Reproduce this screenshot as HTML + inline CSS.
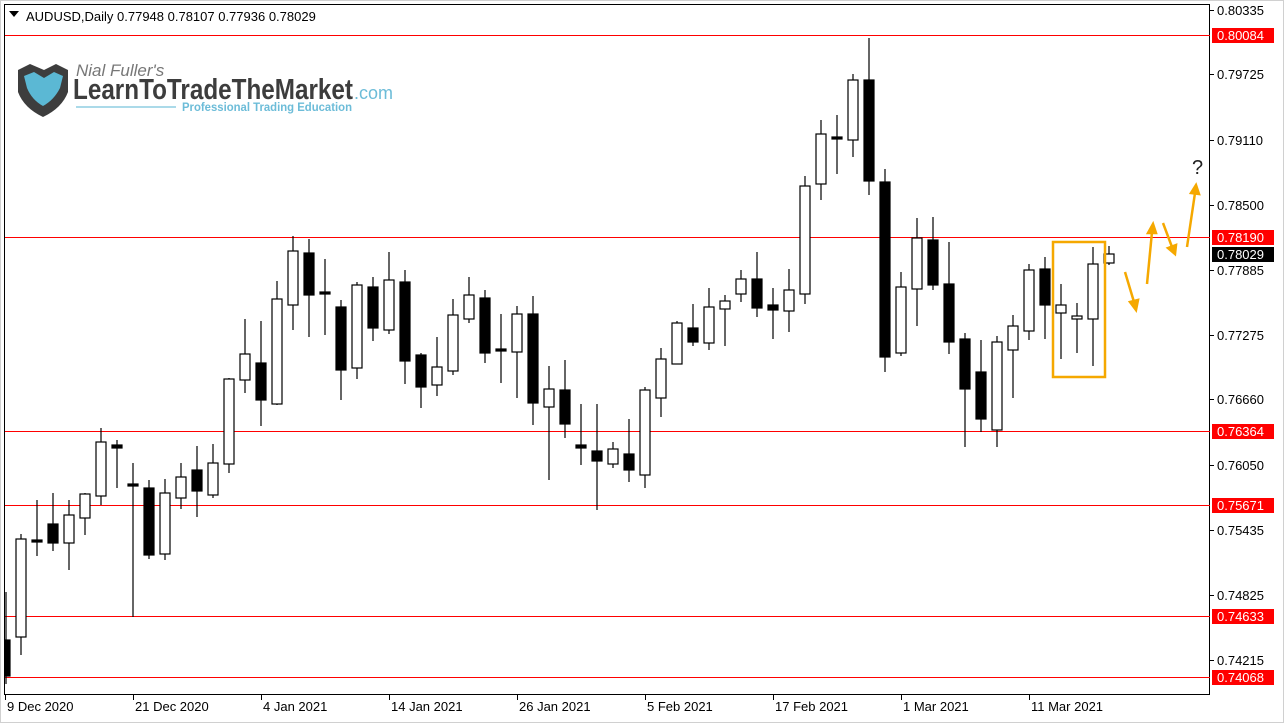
<!DOCTYPE html>
<html><head><meta charset="utf-8"><style>
body{margin:0;background:#fff;width:1284px;height:723px;overflow:hidden;font-family:"Liberation Sans",sans-serif}
</style></head><body>
<svg width="1284" height="723" viewBox="0 0 1284 723" xmlns="http://www.w3.org/2000/svg" font-family="Liberation Sans, sans-serif">
<rect x="0" y="0" width="1284" height="723" fill="#fff"/>
<rect x="0.5" y="0.5" width="1283" height="722" fill="none" stroke="#d0d0d0"/>
<rect x="4.5" y="4.5" width="1205" height="690" fill="none" stroke="#000"/>
<!-- red lines -->
<g fill="#ff0000" shape-rendering="crispEdges">
<rect x="5" y="35" width="1205" height="1"/>
<rect x="5" y="237" width="1205" height="1"/>
<rect x="5" y="431" width="1205" height="1"/>
<rect x="5" y="505" width="1205" height="1"/>
<rect x="5" y="616" width="1205" height="1"/>
<rect x="5" y="677" width="1205" height="1"/>
</g>
<!-- header -->
<polygon points="9,11 19,11 14,17" fill="#000"/>
<text x="26" y="21" font-size="13" fill="#000">AUDUSD,Daily  0.77948 0.78107 0.77936 0.78029</text>
<!-- logo -->
<path d="M18,70 L30,64 L44,70 L56,64 L68,70 L68,92 Q62,108 43,117 Q24,108 18,92 Z" fill="#3d3d3d"/>
<path d="M24,76 L34,72 L44,78 L54,72 L63,76 L60,88 Q54,100 43,106 Q32,100 27,88 Z" fill="#5bb8d4"/>
<text x="76" y="76" font-size="17" font-style="italic" fill="#777">Nial Fuller's</text>
<text x="73" y="99" font-size="29" font-weight="bold" fill="#3d3d3d" textLength="280" lengthAdjust="spacingAndGlyphs">LearnToTradeTheMarket</text>
<text x="354" y="99" font-size="18" fill="#6cbcd8">.com</text>
<line x1="76" y1="107" x2="176" y2="107" stroke="#8fcde2" stroke-width="1.5"/>
<text x="182" y="111" font-size="12" font-weight="bold" fill="#6cbcd8" textLength="170" lengthAdjust="spacingAndGlyphs">Professional Trading Education</text>
<!-- candles -->
<g stroke="#000" stroke-width="1.2">
<line x1="6" y1="592" x2="6" y2="684"/><rect x="5" y="640" width="5" height="36" fill="#000"/>
<line x1="21" y1="534" x2="21" y2="655"/><rect x="16" y="539" width="10" height="98" fill="#fff"/>
<line x1="37" y1="500" x2="37" y2="556"/><rect x="32" y="540" width="10" height="2" fill="#000"/>
<line x1="53" y1="493" x2="53" y2="551"/><rect x="48" y="524" width="10" height="19" fill="#000"/>
<line x1="69" y1="500" x2="69" y2="570"/><rect x="64" y="515" width="10" height="28" fill="#fff"/>
<line x1="85" y1="493" x2="85" y2="535"/><rect x="80" y="494" width="10" height="24" fill="#fff"/>
<line x1="101" y1="428" x2="101" y2="505"/><rect x="96" y="442" width="10" height="54" fill="#fff"/>
<line x1="117" y1="440" x2="117" y2="488"/><rect x="112" y="445" width="10" height="3" fill="#000"/>
<line x1="133" y1="463" x2="133" y2="617"/><rect x="128" y="484" width="10" height="2" fill="#000"/>
<line x1="149" y1="480" x2="149" y2="559"/><rect x="144" y="488" width="10" height="67" fill="#000"/>
<line x1="165" y1="479" x2="165" y2="560"/><rect x="160" y="493" width="10" height="61" fill="#fff"/>
<line x1="181" y1="463" x2="181" y2="509"/><rect x="176" y="477" width="10" height="21" fill="#fff"/>
<line x1="197" y1="446" x2="197" y2="517"/><rect x="192" y="470" width="10" height="21" fill="#000"/>
<line x1="213" y1="444" x2="213" y2="498"/><rect x="208" y="463" width="10" height="32" fill="#fff"/>
<line x1="229" y1="378" x2="229" y2="473"/><rect x="224" y="379" width="10" height="85" fill="#fff"/>
<line x1="245" y1="319" x2="245" y2="393"/><rect x="240" y="354" width="10" height="26" fill="#fff"/>
<line x1="261" y1="321" x2="261" y2="426"/><rect x="256" y="363" width="10" height="37" fill="#000"/>
<line x1="277" y1="281" x2="277" y2="405"/><rect x="272" y="299" width="10" height="105" fill="#fff"/>
<line x1="293" y1="236" x2="293" y2="330"/><rect x="288" y="251" width="10" height="54" fill="#fff"/>
<line x1="309" y1="239" x2="309" y2="337"/><rect x="304" y="253" width="10" height="42" fill="#000"/>
<line x1="325" y1="259" x2="325" y2="335"/><rect x="320" y="292" width="10" height="2" fill="#000"/>
<line x1="341" y1="300" x2="341" y2="400"/><rect x="336" y="307" width="10" height="63" fill="#000"/>
<line x1="357" y1="282" x2="357" y2="379"/><rect x="352" y="285" width="10" height="83" fill="#fff"/>
<line x1="373" y1="277" x2="373" y2="341"/><rect x="368" y="287" width="10" height="41" fill="#000"/>
<line x1="389" y1="252" x2="389" y2="334"/><rect x="384" y="280" width="10" height="50" fill="#fff"/>
<line x1="405" y1="270" x2="405" y2="384"/><rect x="400" y="282" width="10" height="79" fill="#000"/>
<line x1="421" y1="353" x2="421" y2="408"/><rect x="416" y="355" width="10" height="32" fill="#000"/>
<line x1="437" y1="337" x2="437" y2="396"/><rect x="432" y="367" width="10" height="18" fill="#fff"/>
<line x1="453" y1="299" x2="453" y2="375"/><rect x="448" y="315" width="10" height="56" fill="#fff"/>
<line x1="469" y1="277" x2="469" y2="323"/><rect x="464" y="295" width="10" height="24" fill="#fff"/>
<line x1="485" y1="290" x2="485" y2="363"/><rect x="480" y="298" width="10" height="55" fill="#000"/>
<line x1="501" y1="314" x2="501" y2="383"/><rect x="496" y="349" width="10" height="2" fill="#000"/>
<line x1="517" y1="306" x2="517" y2="398"/><rect x="512" y="314" width="10" height="38" fill="#fff"/>
<line x1="533" y1="296" x2="533" y2="425"/><rect x="528" y="314" width="10" height="89" fill="#000"/>
<line x1="549" y1="366" x2="549" y2="480"/><rect x="544" y="389" width="10" height="18" fill="#fff"/>
<line x1="565" y1="360" x2="565" y2="438"/><rect x="560" y="390" width="10" height="34" fill="#000"/>
<line x1="581" y1="404" x2="581" y2="465"/><rect x="576" y="445" width="10" height="3" fill="#000"/>
<line x1="597" y1="404" x2="597" y2="510"/><rect x="592" y="451" width="10" height="10" fill="#000"/>
<line x1="613" y1="442" x2="613" y2="468"/><rect x="608" y="449" width="10" height="15" fill="#fff"/>
<line x1="629" y1="419" x2="629" y2="482"/><rect x="624" y="454" width="10" height="16" fill="#000"/>
<line x1="645" y1="387" x2="645" y2="488"/><rect x="640" y="390" width="10" height="85" fill="#fff"/>
<line x1="661" y1="348" x2="661" y2="417"/><rect x="656" y="359" width="10" height="39" fill="#fff"/>
<line x1="677" y1="321" x2="677" y2="364"/><rect x="672" y="323" width="10" height="41" fill="#fff"/>
<line x1="693" y1="304" x2="693" y2="346"/><rect x="688" y="328" width="10" height="14" fill="#000"/>
<line x1="709" y1="288" x2="709" y2="350"/><rect x="704" y="307" width="10" height="36" fill="#fff"/>
<line x1="725" y1="295" x2="725" y2="346"/><rect x="720" y="301" width="10" height="8" fill="#fff"/>
<line x1="741" y1="270" x2="741" y2="302"/><rect x="736" y="279" width="10" height="15" fill="#fff"/>
<line x1="757" y1="252" x2="757" y2="317"/><rect x="752" y="279" width="10" height="29" fill="#000"/>
<line x1="773" y1="288" x2="773" y2="339"/><rect x="768" y="305" width="10" height="5" fill="#000"/>
<line x1="789" y1="269" x2="789" y2="332"/><rect x="784" y="290" width="10" height="21" fill="#fff"/>
<line x1="805" y1="176" x2="805" y2="304"/><rect x="800" y="186" width="10" height="108" fill="#fff"/>
<line x1="821" y1="120" x2="821" y2="200"/><rect x="816" y="134" width="10" height="50" fill="#fff"/>
<line x1="837" y1="115" x2="837" y2="174"/><rect x="832" y="137" width="10" height="2" fill="#000"/>
<line x1="853" y1="74" x2="853" y2="157"/><rect x="848" y="80" width="10" height="60" fill="#fff"/>
<line x1="869" y1="38" x2="869" y2="195"/><rect x="864" y="80" width="10" height="101" fill="#000"/>
<line x1="885" y1="169" x2="885" y2="372"/><rect x="880" y="182" width="10" height="175" fill="#000"/>
<line x1="901" y1="272" x2="901" y2="356"/><rect x="896" y="287" width="10" height="66" fill="#fff"/>
<line x1="917" y1="218" x2="917" y2="326"/><rect x="912" y="238" width="10" height="51" fill="#fff"/>
<line x1="933" y1="217" x2="933" y2="290"/><rect x="928" y="240" width="10" height="45" fill="#000"/>
<line x1="949" y1="242" x2="949" y2="354"/><rect x="944" y="284" width="10" height="58" fill="#000"/>
<line x1="965" y1="333" x2="965" y2="447"/><rect x="960" y="339" width="10" height="50" fill="#000"/>
<line x1="981" y1="340" x2="981" y2="432"/><rect x="976" y="372" width="10" height="47" fill="#000"/>
<line x1="997" y1="336" x2="997" y2="447"/><rect x="992" y="342" width="10" height="88" fill="#fff"/>
<line x1="1013" y1="315" x2="1013" y2="398"/><rect x="1008" y="326" width="10" height="24" fill="#fff"/>
<line x1="1029" y1="264" x2="1029" y2="340"/><rect x="1024" y="270" width="10" height="61" fill="#fff"/>
<line x1="1045" y1="257" x2="1045" y2="339"/><rect x="1040" y="269" width="10" height="36" fill="#000"/>
<line x1="1061" y1="284" x2="1061" y2="359"/><rect x="1056" y="305" width="10" height="8" fill="#fff"/>
<line x1="1077" y1="303" x2="1077" y2="353"/><rect x="1072" y="316" width="10" height="3" fill="#fff"/>
<line x1="1093" y1="247" x2="1093" y2="366"/><rect x="1088" y="264" width="10" height="55" fill="#fff"/>
<line x1="1109" y1="246" x2="1109" y2="265"/><rect x="1104" y="254" width="10" height="9" fill="#fff"/>
</g>
<!-- orange box and arrows -->
<rect x="1053" y="242" width="52" height="135" fill="none" stroke="#f5a800" stroke-width="2.5"/>
<g stroke="#f5a800" stroke-width="2.5" fill="#f5a800">
<line x1="1125" y1="272" x2="1134" y2="302"/><polygon points="1130,302 1138,300 1136,310"/>
<line x1="1147" y1="284" x2="1152" y2="232"/><polygon points="1148,233 1156,233 1153,224"/>
<line x1="1163" y1="223" x2="1172" y2="247"/><polygon points="1168,248 1176,245 1175,254"/>
<line x1="1187" y1="247" x2="1195" y2="193"/><polygon points="1191,193 1199,194 1196,185"/>
</g>
<text x="1192" y="174" font-size="20" fill="#222">?</text>
<!-- right axis -->
<g font-size="13" fill="#000">
<g stroke="#000"><line x1="1210" y1="10.5" x2="1214" y2="10.5"/><line x1="1210" y1="74.5" x2="1214" y2="74.5"/><line x1="1210" y1="140.5" x2="1214" y2="140.5"/><line x1="1210" y1="205.5" x2="1214" y2="205.5"/><line x1="1210" y1="270.5" x2="1214" y2="270.5"/><line x1="1210" y1="335.5" x2="1214" y2="335.5"/><line x1="1210" y1="399.5" x2="1214" y2="399.5"/><line x1="1210" y1="465.5" x2="1214" y2="465.5"/><line x1="1210" y1="530.5" x2="1214" y2="530.5"/><line x1="1210" y1="595.5" x2="1214" y2="595.5"/><line x1="1210" y1="660.5" x2="1214" y2="660.5"/></g>
<text x="1217" y="15">0.80335</text>
<text x="1217" y="79">0.79725</text>
<text x="1217" y="145">0.79110</text>
<text x="1217" y="210">0.78500</text>
<text x="1217" y="275">0.77885</text>
<text x="1217" y="340">0.77275</text>
<text x="1217" y="404">0.76660</text>
<text x="1217" y="470">0.76050</text>
<text x="1217" y="535">0.75435</text>
<text x="1217" y="600">0.74825</text>
<text x="1217" y="665">0.74215</text>
</g>
<g font-size="13" fill="#fff">
<rect x="1212" y="28" width="62" height="15" fill="#ff0000"/><text x="1217" y="40">0.80084</text>
<rect x="1212" y="230" width="62" height="15" fill="#ff0000"/><text x="1217" y="242">0.78190</text>
<rect x="1212" y="247" width="62" height="15" fill="#000"/><text x="1217" y="259">0.78029</text>
<rect x="1212" y="424" width="62" height="15" fill="#ff0000"/><text x="1217" y="436">0.76364</text>
<rect x="1212" y="498" width="62" height="15" fill="#ff0000"/><text x="1217" y="510">0.75671</text>
<rect x="1212" y="609" width="62" height="15" fill="#ff0000"/><text x="1217" y="621">0.74633</text>
<rect x="1212" y="670" width="62" height="15" fill="#ff0000"/><text x="1217" y="682">0.74068</text>
</g>
<!-- bottom axis -->
<g stroke="#000"><line x1="5.5" y1="695" x2="5.5" y2="700"/><line x1="133.5" y1="695" x2="133.5" y2="700"/><line x1="261.5" y1="695" x2="261.5" y2="700"/><line x1="389.5" y1="695" x2="389.5" y2="700"/><line x1="517.5" y1="695" x2="517.5" y2="700"/><line x1="645.5" y1="695" x2="645.5" y2="700"/><line x1="773.5" y1="695" x2="773.5" y2="700"/><line x1="901.5" y1="695" x2="901.5" y2="700"/><line x1="1029.5" y1="695" x2="1029.5" y2="700"/></g>
<g font-size="13" fill="#000">
<text x="7" y="711">9 Dec 2020</text>
<text x="135" y="711">21 Dec 2020</text>
<text x="263" y="711">4 Jan 2021</text>
<text x="391" y="711">14 Jan 2021</text>
<text x="519" y="711">26 Jan 2021</text>
<text x="647" y="711">5 Feb 2021</text>
<text x="775" y="711">17 Feb 2021</text>
<text x="903" y="711">1 Mar 2021</text>
<text x="1031" y="711">11 Mar 2021</text>
</g>
</svg>
</body></html>
